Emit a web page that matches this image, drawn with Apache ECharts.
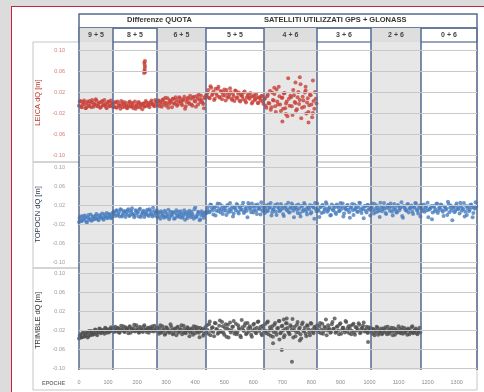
<!DOCTYPE html>
<html><head><meta charset="utf-8">
<script src="https://cdn.jsdelivr.net/npm/echarts@6/dist/echarts.min.js"></script>
<style>
html,body{margin:0;padding:0;width:484px;height:392px;overflow:hidden;background:#dcdcdc;}
#frame{position:absolute;left:11px;top:6px;width:480px;height:400px;background:#fff;border-left:1.5px solid #c4213f;border-top:1.5px solid #c4213f;}
#chart{position:absolute;left:0;top:0;width:484px;height:392px;}
</style></head><body><div id="frame"></div><div id="chart"></div>
<script>
// ---- data ----
const epochStep = 5;     // epochs between stored samples
const epochOffsetB = 2.5; // second sample set, shifted by half a step
const segLabels = ['9 + 5','8 + 5','6 + 5','5 + 5','4 + 6','3 + 6','2 + 6','0 + 6'];
const segBounds = [0,117,268,437,637,819,1005,1177,1370];
const shadedSegs = [0,2,4,6];
const yTicks = [-0.10,-0.06,-0.02,0.02,0.06,0.10];
const xTicks = [0,100,200,300,400,500,600,700,800,900,1000,1100,1200,1300];
const titles = ['Differenze QUOTA','SATELLITI UTILIZZATI GPS + GLONASS'];
const panelNames = ['LEICA dQ [m]','TOPOCN dQ [m]','TRIMBLE dQ [m]'];

// dQ values in millimetres
const leicaMM = [
 -6,3,-9,1,-4,-10,2,-7,-1,5,-8,-3,4,-6,0,-9,3,-5,-2,-11,1,-7,4,-3,
 -8,1,-10,-2,-6,3,-9,-4,0,-11,-5,2,-8,-1,-7,-12,-3,1,-9,-5,-2,-8,3,-6,-1,-4,4,-3,-7,2,
 -5,4,-2,-8,6,0,-6,8,-3,3,-9,7,-1,5,-4,10,2,-5,6,-12,1,9,-3,7,-6,11,2,12,-4,6,13,0,-11,8,
 12,24,8,28,16,5,26,13,30,9,20,14,25,4,18,11,27,7,16,3,22,10,19,2,15,6,21,0,13,9,18,-2,11,5,16,-1,10,4,13,-3,
 8,-10,15,-2,-14,19,4,-7,25,-4,12,-16,9,17,-11,2,46,-6,10,-24,14,-1,-13,20,5,-30,11,-8,23,0,-18,15,-4,42,-12,7
];
const leicaMMb = [
 2,-8,-3,4,-11,-1,-6,3,-9,0,-4,6,-7,-2,-10,1,-5,5,-8,-3,2,-6,-1,-9,
 -1,-9,2,-6,-12,-3,1,-8,-5,-10,0,-7,-3,-11,2,-6,-9,-1,-4,-13,-2,-7,0,-5,-9,1,-3,-6,5,-1,
 3,-7,1,5,-4,9,-1,-10,4,0,7,-3,10,-6,2,8,-2,4,11,-7,6,0,13,-4,9,3,-8,7,15,1,5,-3,10,14,
 18,9,31,14,21,7,17,26,11,22,6,19,13,24,9,15,20,5,12,23,8,17,4,14,11,19,3,9,16,7,12,1,14,6,10,-1,8,12,2,6,
 -6,12,-1,22,-9,5,16,-18,2,30,-4,9,-12,18,-2,-26,7,13,-7,24,1,-15,10,-3,35,-10,4,19,-21,8,-5,14,-28,3,20,-2
];
const leicaExtra = [[224,56],[225,60],[226,64],[227,68],[226,72],[225,76],[227,79],[228,58],[760,48],[745,38],[790,-38],[700,-36],[672,28],[712,-22],[780,30],[805,-20]];

const topoconMM = [
 -16,-4,-13,-9,-2,-15,-7,-11,0,-12,-5,-9,1,-10,-3,-7,2,-11,-4,3,-6,0,-8,2,
 6,-3,9,1,-4,10,-1,7,-5,4,11,-2,8,0,-6,9,3,-4,12,-1,6,-5,2,10,-3,8,0,14,-2,5,
 -6,5,-9,3,-3,8,-5,1,-10,6,-2,4,-8,9,-4,0,7,-7,2,-11,5,-3,8,-6,1,-9,15,-4,6,-12,-1,3,-7,4,
 3,17,6,20,9,14,-2,18,7,22,11,1,16,8,19,5,24,12,-4,15,9,20,2,17,10,25,6,14,-6,19,11,23,4,16,8,21,13,0,18,10,
 3,19,8,14,24,5,11,20,-1,16, 7,22,12,-3,17,9,25,4,13,19, -6,15,10,21,2,18,7,24,11,0,
 14,20,5,17,-9,12,23,8,16,3, 19,10,26,6,13,-2,21,9,15,1, 18,7,24,12,-4,16,10,20,5,14,
 22,-1,11,18,6,25,9,13,-8,17, 4,20,10,15,23,2,12,19,7,-5, 16,11,24,3,14,20,8,17,-2,22,
 10,5,18,13,26,-7,15,9,21,4, 12,19,1,16,23,8,14,-4,20,11, 6,17,25,10,13,-10,18,7,22,3,
 15,21,9,-3,16,12,27,5,19,-12, 14,8,23,11,2,18,13,24,6,-1, 17,10,21,-6,15,26
];
const topoconMMb = [
 -8,-14,-3,-11,-6,-17,-1,-9,-13,-4,-10,-2,-8,-12,-1,-6,-9,0,-5,-8,1,-3,-6,4,
 1,8,-2,5,11,-4,3,7,0,9,-3,5,13,1,-2,7,4,10,-5,3,8,0,6,-1,11,2,-4,7,3,9,
 2,-4,7,-1,-7,4,-3,10,-5,0,5,-9,3,-2,6,-6,1,-4,9,0,-8,3,-1,6,-3,11,-6,0,4,-10,7,-2,1,5,
 10,5,21,13,0,16,8,23,12,4,18,9,14,-1,20,11,7,17,2,13,22,6,15,10,19,3,12,8,24,14,5,17,9,20,1,15,11,26,7,16,
 12,7,21,15,-2,10,17,6,22,13, 9,18,1,14,20,11,5,16,23,8, 13,19,3,12,-4,17,10,21,6,15,
 11,2,18,14,24,7,10,-5,16,20, 5,13,22,9,15,-1,11,18,4,21, 14,8,17,23,2,12,19,10,-7,16,
 9,21,13,6,15,24,3,11,18,8, 20,12,-2,16,9,22,5,14,10,25, 7,17,12,1,19,14,23,6,11,16,
 4,20,9,15,-3,18,12,8,22,13, 17,6,14,24,10,2,19,13,7,21, 15,9,-6,12,18,4,16,11,23,8,
 13,20,6,17,10,-1,22,14,9,16, 5,19,12,15,25,8,11,-4,18,13, 7,20,15,3,12,17
];

const trimbleMM = [
 -38,-29,-35,-24,-33,-27,-36,-22,-31,-25,-29,-19,-28,-23,-17,-27,-21,-24,-15,-26,-19,-23,-14,-22,
 -24,-13,-21,-17,-26,-11,-19,-23,-14,-20,-27,-12,-18,-22,-9,-21,-16,-25,-13,-19,-24,-10,-20,-17,-26,-14,-22,-18,-11,-21,
 -15,-28,-10,-24,-19,-30,-14,-22,-26,-8,-20,-27,-17,-31,-13,-23,-18,-29,-11,-25,-21,-16,-33,-19,-24,-12,-27,-20,-15,-35,-22,-18,-28,-14,
 -10,-28,-2,-22,-14,-33,-6,-19,-26,0,-24,-12,-30,-8,-17,-36,-4,-21,-13,-28,-7,-25,-16,-32,1,-20,-11,-29,-5,-23,-15,-34,-9,-18,-27,-3,-22,-13,-31,-16,
 -8,-27,-2,-21,-32,-12,-24,-5,-30,-16,-1,-26,-11,-35,-18,-6,-23,-29,-13,3,-20,-33,-9,-25,-15,-38,-4,-22,-28,-10,-19,-31,-7,-24,-14,-20,
 -10,-24,-5,-19,-28,-13,2,-21,-16,-26,-8,-18,4,-23,-12,-29,-6,-20,-15,-25,-3,-17,-27,-11,-22,-7,-30,-14,-19,-9,-24,-16,-4,-21,-13,-26,-18,
 -16,-28,-19,-25,-13,-30,-21,-17,-27,-23,-14,-29,-20,-24,-15,-31,-22,-18,-26,-12,-25,-20,-28,-16,-23,-30,-19,-24,-14,-27,-21,-17,-29,-22,-25
];
const trimbleMMb = [
 -32,-36,-27,-34,-30,-24,-33,-28,-22,-30,-26,-20,-31,-24,-18,-25,-20,-28,-17,-22,-25,-18,-21,-16,
 -19,-23,-15,-25,-18,-21,-12,-24,-17,-20,-14,-26,-19,-16,-23,-10,-20,-25,-17,-22,-13,-19,-24,-15,-21,-18,-12,-23,-20,-16,
 -23,-17,-26,-12,-21,-28,-16,-20,-24,-13,-29,-19,-22,-15,-26,-20,-10,-24,-18,-27,-14,-21,-25,-17,-30,-19,-13,-23,-26,-16,-21,-32,-19,-25,
 -20,-8,-31,-15,-24,-5,-18,-28,-11,-22,-3,-26,-16,-34,-9,-20,-25,-13,-1,-23,-29,-10,-19,-35,-14,-22,-6,-27,-17,-12,-30,-21,-7,-25,-15,-2,-19,-28,-11,-23,
 -22,-4,-29,-14,-19,-34,-9,-24,-17,-1,-27,-12,-21,-31,-6,-16,-26,-10,-20,-36,-13,-24,-3,-18,-29,-8,-22,-15,-33,-11,-25,-5,-20,-27,-13,-18,
 -20,-12,-27,-7,-22,-16,-31,-10,-19,-24,-3,-17,-26,-13,-21,-8,-28,-15,-20,-1,-23,-12,-18,-29,-9,-25,-14,-21,-6,-27,-17,-11,-23,-19,-26,-14,-20,
 -24,-18,-31,-21,-15,-26,-22,-29,-17,-20,-25,-13,-28,-19,-23,-16,-30,-21,-24,-18,-27,-14,-22,-26,-20,-17,-29,-23,-12,-25,-19,-27,-21,-15
];
const trimbleExtra = [[668,-48],[698,-62],[733,-87],[995,-45],[690,-40],[760,-42],[705,2],[715,4]];

// ---- build ----
function toPairs(arr, off){ return arr.map((v,i)=>[i*epochStep + (off||0), v/1000]); }
function extraPairs(arr){ return arr.map(p=>[p[0], p[1]/1000]); }

const chart = echarts.init(document.getElementById('chart'), null, {renderer:'canvas'});
const slate = '#55698f';
const FONT = 'Liberation Sans';

const dataGrids = [
  {left:79, right:7, top:50, height:105},
  {left:79, right:7, top:167, height:95},
  {left:79, right:7, top:273, height:95}
];
const grids = dataGrids.concat([
  {left:79, right:7, top:42, height:328},                                  // 3 background
  {left:79, right:7, top:28, height:14, show:true, borderColor:slate, borderWidth:1}, // 4 header row 2
  {left:79, right:7, top:14, height:14, show:true, borderColor:slate, borderWidth:1.5} // 5 header row 1
]);

const labelColors = ['#d77a7a','#a0a0a0','#9a9a9a'];
const nameColors = ['#c0392b','#2f3b55','#333333'];
const seriesColors = ['#c8413a','#4a7ebf','#4d4d4d'];
const seriesData = [
  toPairs(leicaMM).concat(toPairs(leicaMMb, epochOffsetB), extraPairs(leicaExtra)),
  toPairs(topoconMM).concat(toPairs(topoconMMb, epochOffsetB)),
  toPairs(trimbleMM).concat(toPairs(trimbleMMb, epochOffsetB), extraPairs(trimbleExtra))
];

const xAxes = grids.map((g,i)=>{
  const base = {gridIndex:i, type:'value', min:segBounds[0], max:segBounds[segBounds.length-1]};
  if (i===2) {
    return Object.assign(base, {interval:100,
      axisLine:{show:false}, axisTick:{show:false}, splitLine:{show:false},
      axisLabel:{show:true, fontSize:5.5, color:'#8c8c8c', margin:11, fontFamily:FONT, showMaxLabel:false,
        formatter:v=> xTicks.indexOf(Math.round(v))>=0 ? String(Math.round(v)) : ''}});
  }
  return Object.assign(base, {show:false});
});
const yAxes = grids.map((g,i)=>{
  if (i<3) {
    return {gridIndex:i, type:'value', min:-0.1, max:0.1, interval:0.02,
      axisLine:{show:false}, axisTick:{show:false}, splitLine:{show:false},
      axisLabel:{fontSize:5.5, color:labelColors[i], margin:14, fontFamily:FONT,
        formatter:v=> yTicks.some(t=>Math.abs(t-v)<1e-6) ? v.toFixed(2) : ''},
      name:panelNames[i], nameLocation:'middle', nameGap:31,
      nameTextStyle:{color:nameColors[i], fontSize:7.5, fontFamily:FONT}};
  }
  return {gridIndex:i, type:'value', min:0, max:1, show:false};
});

const series = [];
// background shading + segment boundaries
series.push({type:'scatter', xAxisIndex:3, yAxisIndex:3, data:[], z:0, silent:true,
  markArea:{silent:true, itemStyle:{color:'#e7e7e7'},
    data: shadedSegs.map(s=>[{xAxis:segBounds[s]},{xAxis:segBounds[s+1]}])},
  markLine:{silent:true, symbol:'none', animation:false, label:{show:false},
    lineStyle:{color:slate, width:1.5, type:'solid'},
    data: segBounds.map(b=>({xAxis:b}))}
});
// header row 2: segment labels
series.push({type:'scatter', xAxisIndex:4, yAxisIndex:4, data:[], z:0, silent:true,
  markArea:{silent:true,
    label:{show:true, position:'inside', fontSize:7, fontWeight:'bold', color:'#444', fontFamily:FONT},
    data: segLabels.map((lab,s)=>[{name:lab, xAxis:segBounds[s],
      itemStyle:{color: shadedSegs.indexOf(s)>=0 ? '#dedede' : 'rgba(255,255,255,0)'}},{xAxis:segBounds[s+1]}])},
  markLine:{silent:true, symbol:'none', animation:false, label:{show:false},
    lineStyle:{color:slate, width:1.5, type:'solid'},
    data: segBounds.map(b=>({xAxis:b}))}
});
// horizontal grid lines + data
for (let i=0;i<3;i++){
  series.push({type:'line', xAxisIndex:i, yAxisIndex:i, data:[], z:1, silent:true,
    markLine:{silent:true, symbol:'none', animation:false, label:{show:false},
      lineStyle:{color:'#c9c9c9', width:1, type:'solid'},
      data: yTicks.map(v=>({yAxis:v}))}});
  series.push({type:'scatter', xAxisIndex:i, yAxisIndex:i, z:3,
    symbol:'circle', symbolSize:4, itemStyle:{color:seriesColors[i]},
    data: seriesData[i], animation:false});
}

chart.setOption({
  animation:false,
  textStyle:{fontFamily:FONT},
  title:[
    {text:titles[0], left:127, top:16, padding:0, textStyle:{fontSize:7.5, fontWeight:'bold', color:'#333', fontFamily:FONT}},
    {text:titles[1], left:264, top:16, padding:0, textStyle:{fontSize:7.5, fontWeight:'bold', color:'#333', fontFamily:FONT}}
  ],
  grid: grids,
  xAxis: xAxes,
  yAxis: yAxes,
  series: series,
  graphic:[
    {type:'rect', z:-1, shape:{x:33,y:42,width:444,height:120}, style:{fill:'none', stroke:'#c6c6c6', lineWidth:1}},
    {type:'rect', z:-1, shape:{x:33,y:162,width:444,height:106}, style:{fill:'none', stroke:'#c6c6c6', lineWidth:1}},
    {type:'rect', z:-1, shape:{x:33,y:268,width:444,height:122}, style:{fill:'none', stroke:'#c6c6c6', lineWidth:1}},
    {type:'text', left:42, top:380, style:{text:'EPOCHE', fontSize:5.5, fontWeight:'bold', fill:'#777', font:'bold 5.5px Liberation Sans'}}
  ]
});
</script></body></html>
